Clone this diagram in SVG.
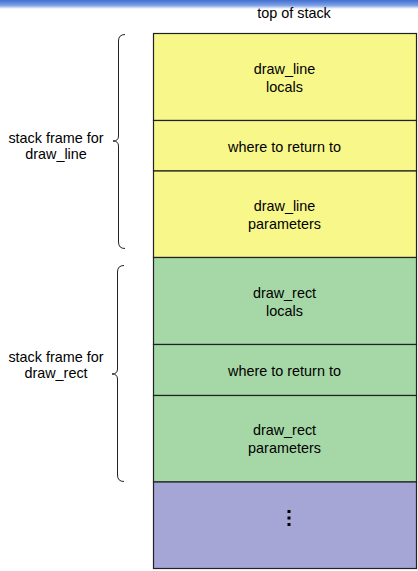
<svg xmlns="http://www.w3.org/2000/svg" width="418" height="571" viewBox="0 0 418 571">
  <defs>
    <linearGradient id="bar" x1="0" y1="0" x2="0" y2="1">
      <stop offset="0" stop-color="#3f6fd0"/>
      <stop offset="0.6" stop-color="#7ea0e6"/>
      <stop offset="1" stop-color="#ffffff"/>
    </linearGradient>
  </defs>
  <style>
    text { font-family: "Liberation Sans", Arial, sans-serif; font-size: 14.4px; fill: #000; text-anchor: middle; }
    .cell { stroke: #222; stroke-width: 1.2; }
    .yellow { fill: #f7f78a; }
    .green { fill: #a6d7a6; }
    .purple { fill: #a5a5d6; }
    .brace { fill: none; stroke: #222; stroke-width: 1; }
  </style>
  <rect width="418" height="571" fill="#fff"/>
  <!-- header bar -->
  <rect x="0" y="0" width="418" height="9" fill="url(#bar)"/>

  <text x="294" y="18">top of stack</text>

  <!-- stack cells -->
  <g id="line-locals">
    <rect class="cell yellow" x="153.5" y="33.5" width="263" height="87"/>
    <text x="284.5" y="74">draw_line</text>
    <text x="284.5" y="91.5">locals</text>
  </g>
  <g id="line-return">
    <rect class="cell yellow" x="153.5" y="120.5" width="263" height="50.5"/>
    <text x="284.5" y="151.5">where to return to</text>
  </g>
  <g id="line-params">
    <rect class="cell yellow" x="153.5" y="171" width="263" height="86.5"/>
    <text x="284.5" y="211">draw_line</text>
    <text x="284.5" y="228.5">parameters</text>
  </g>
  <g id="rect-locals">
    <rect class="cell green" x="153.5" y="257.5" width="263" height="87"/>
    <text x="284.5" y="298">draw_rect</text>
    <text x="284.5" y="315.5">locals</text>
  </g>
  <g id="rect-return">
    <rect class="cell green" x="153.5" y="344.5" width="263" height="51"/>
    <text x="284.5" y="375.5">where to return to</text>
  </g>
  <g id="rect-params">
    <rect class="cell green" x="153.5" y="395.5" width="263" height="86.5"/>
    <text x="284.5" y="435">draw_rect</text>
    <text x="284.5" y="452.5">parameters</text>
  </g>
  <g id="rest">
    <rect class="cell purple" x="153.5" y="482" width="263" height="86.5"/>
    <rect x="287.5" y="510" width="3" height="3" fill="#000"/>
    <rect x="287.5" y="516.5" width="3" height="3" fill="#000"/>
    <rect x="287.5" y="523" width="3" height="3" fill="#000"/>
  </g>

  <!-- frame braces and labels -->
  <g id="frame-line">
    <path class="brace" d="M125,34.5 Q118.5,34.5 118.5,41 L118.5,136 Q118.5,141 113,141 Q118.5,141 118.5,146 L118.5,242 Q118.5,248.5 125,248.5"/>
    <text x="56" y="143">stack frame for</text>
    <text x="56" y="159">draw_line</text>
  </g>
  <g id="frame-rect">
    <path class="brace" d="M124,265.5 Q117.5,265.5 117.5,272 L117.5,369 Q117.5,374 112,374 Q117.5,374 117.5,379 L117.5,475 Q117.5,481.5 124,481.5"/>
    <text x="56" y="362">stack frame for</text>
    <text x="56" y="378">draw_rect</text>
  </g>
</svg>
